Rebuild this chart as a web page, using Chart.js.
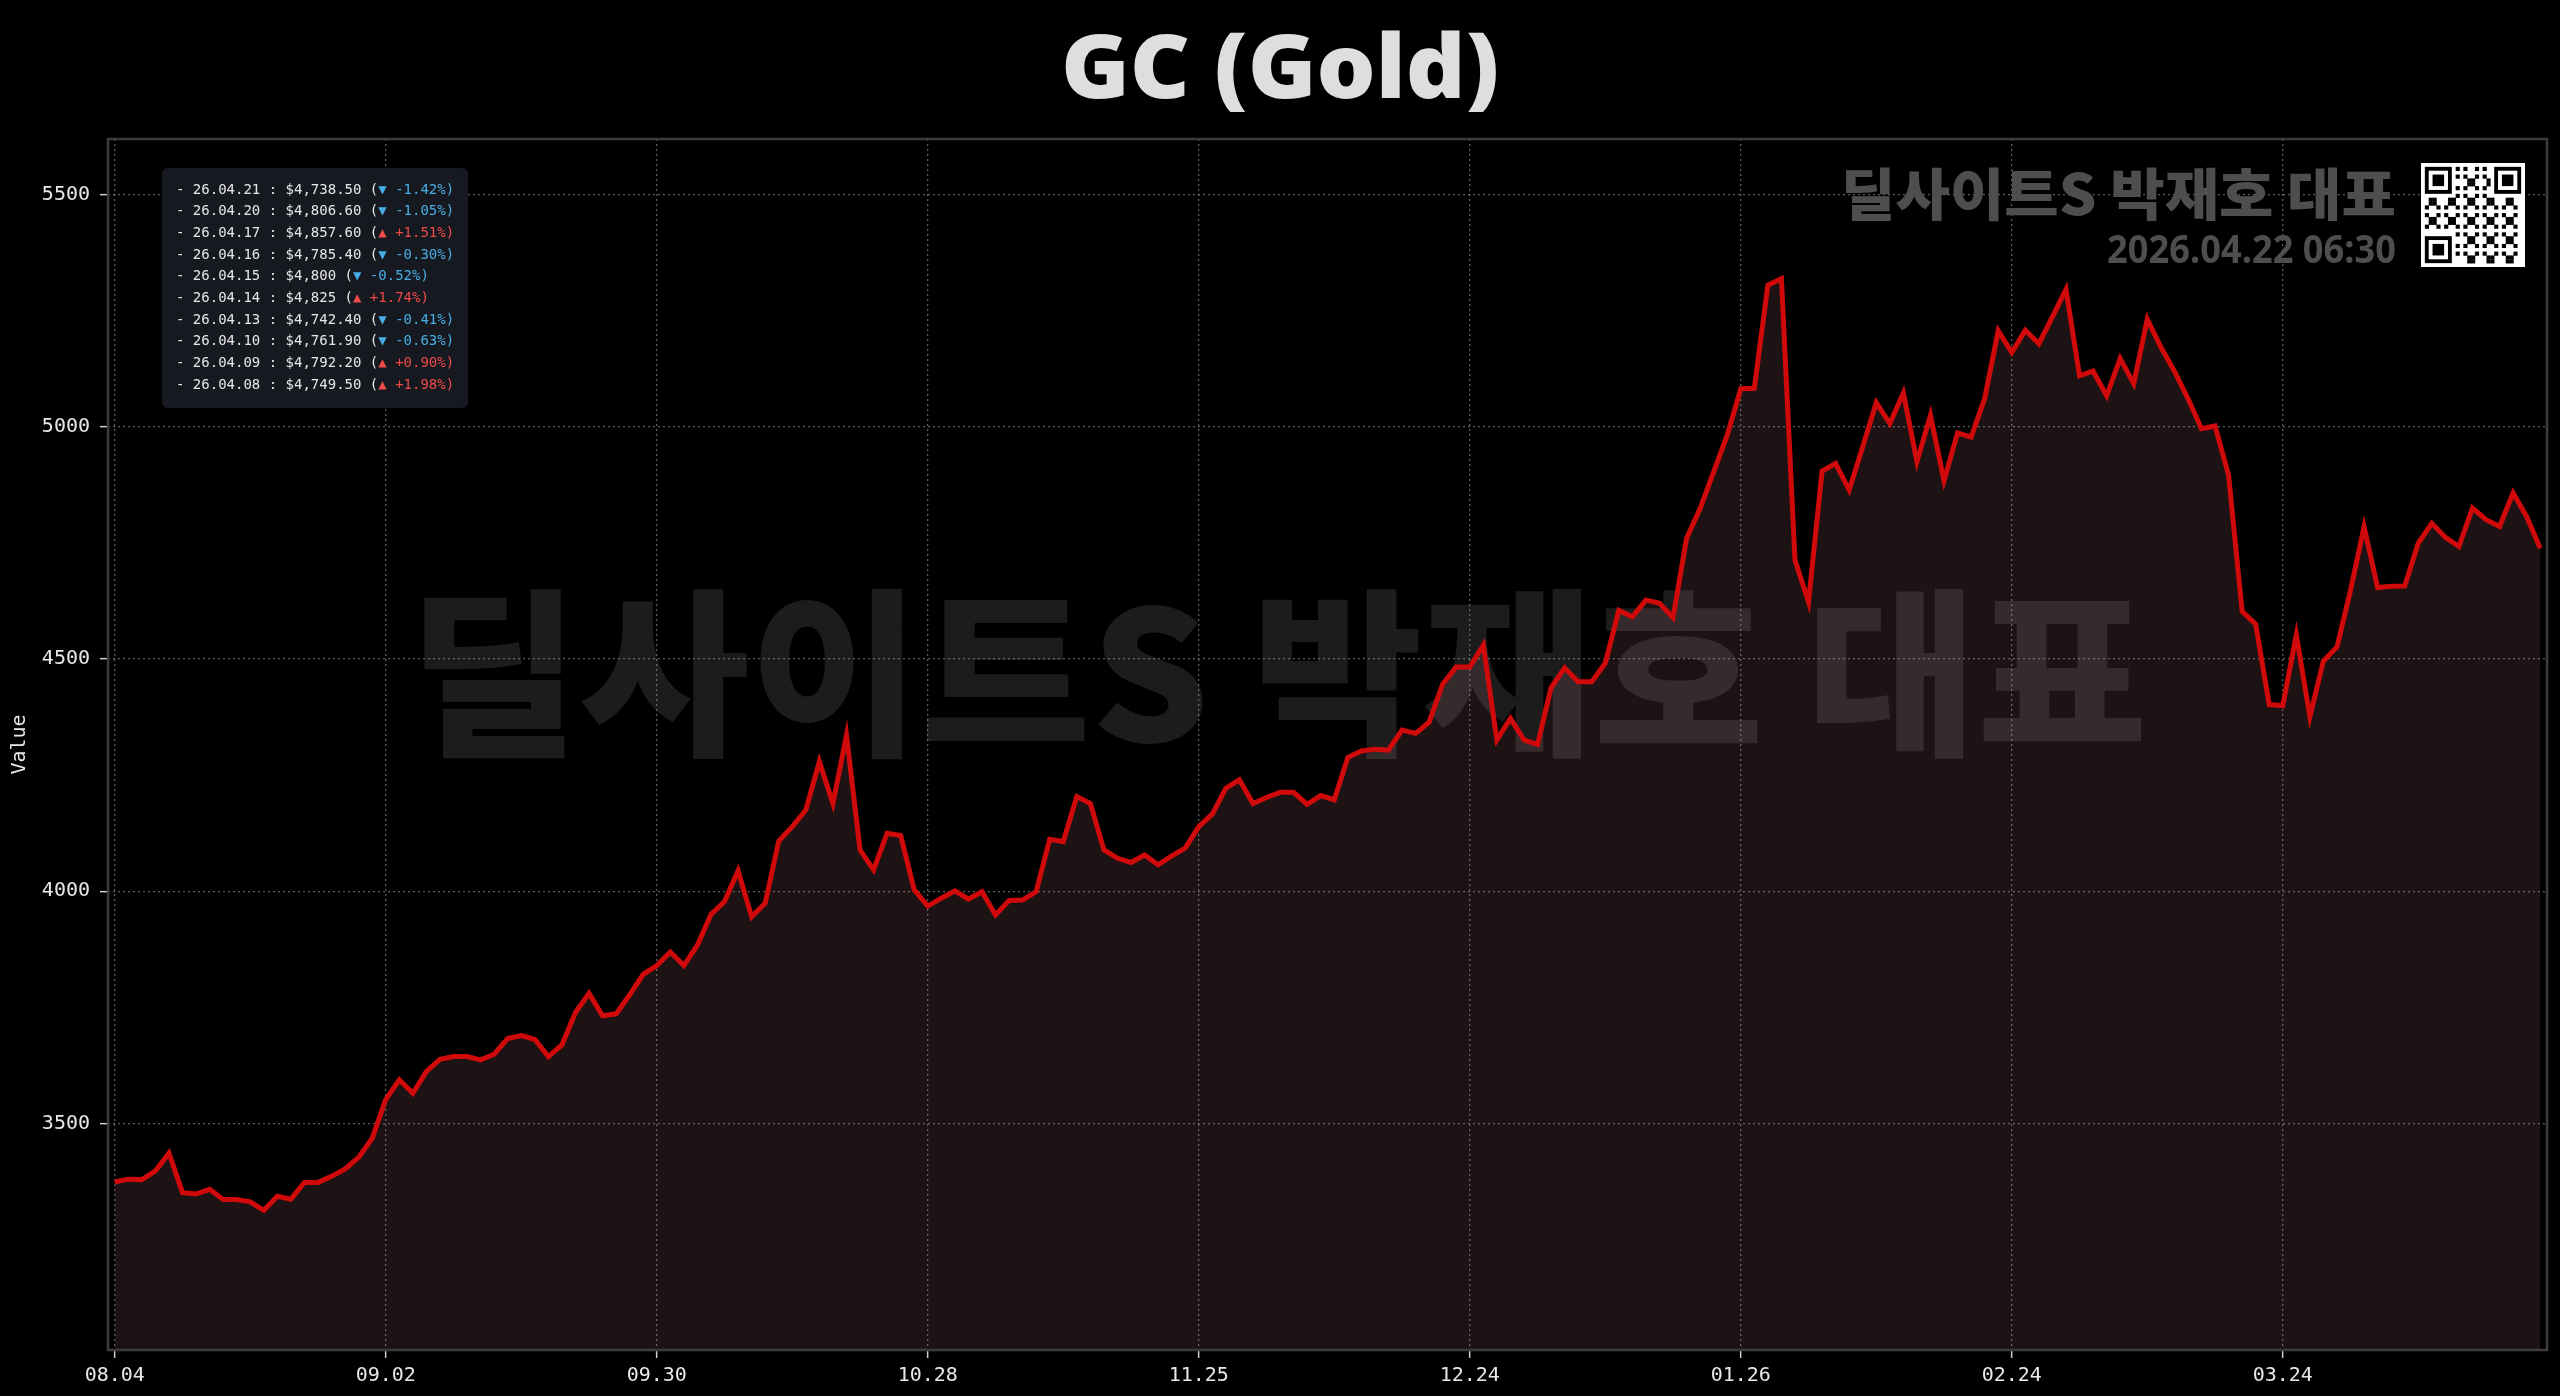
<!DOCTYPE html>
<html>
<head>
<meta charset="utf-8">
<title>GC (Gold)</title>
<script src="https://cdn.jsdelivr.net/npm/chart.js@4.4.1/dist/chart.umd.min.js"></script>
<style>
	html, body { margin: 0; padding: 0; background: #000; }
	#wrap { width: 2560px; height: 1396px; position: relative; }
</style>
</head>
<body>
<div id="wrap"><canvas id="gold"></canvas></div>
<script>
// DATA (trading days 2025.08.04 -> 2026.04.21)
const dates = [
	'08.04','08.05','08.06','08.07','08.08','08.11','08.12','08.13','08.14','08.15','08.18','08.19','08.20','08.21','08.22','08.25','08.26','08.27','08.28','08.29',
	'09.02','09.03','09.04','09.05','09.08','09.09','09.10','09.11','09.12','09.15','09.16','09.17','09.18','09.19','09.22','09.23','09.24','09.25','09.26','09.29','09.30',
	'10.01','10.02','10.03','10.06','10.07','10.08','10.09','10.10','10.13','10.14','10.15','10.16','10.17','10.20','10.21','10.22','10.23','10.24','10.27','10.28','10.29','10.30','10.31',
	'11.03','11.04','11.05','11.06','11.07','11.10','11.11','11.12','11.13','11.14','11.17','11.18','11.19','11.20','11.21','11.24','11.25','11.26','11.28',
	'12.01','12.02','12.03','12.04','12.05','12.08','12.09','12.10','12.11','12.12','12.15','12.16','12.17','12.18','12.19','12.22','12.23','12.24','12.26','12.29','12.30','12.31',
	'01.02','01.05','01.06','01.07','01.08','01.09','01.12','01.13','01.14','01.15','01.16','01.20','01.21','01.22','01.23','01.26','01.27','01.28','01.29','01.30',
	'02.02','02.03','02.04','02.05','02.06','02.09','02.10','02.11','02.12','02.13','02.17','02.18','02.19','02.20','02.23','02.24','02.25','02.26','02.27',
	'03.02','03.03','03.04','03.05','03.06','03.09','03.10','03.11','03.12','03.13','03.16','03.17','03.18','03.19','03.20','03.23','03.24','03.25','03.26','03.27','03.30','03.31',
	'04.01','04.02','04.06','04.07','04.08','04.09','04.10','04.13','04.14','04.15','04.16','04.17','04.20','04.21'
];

const closes = [
	3374, 3380, 3379, 3398, 3436, 3351, 3348, 3358, 3336, 3336, 3331, 3313, 3343, 3337, 3373, 3373, 3386, 3402, 3427, 3468,
	3552, 3594, 3565, 3612, 3638, 3644, 3644, 3637, 3649, 3683, 3689, 3681, 3644, 3669, 3739, 3780, 3732, 3736, 3777, 3821, 3840,
	3869, 3840, 3884, 3950, 3978, 4044, 3945, 3974, 4108, 4139, 4175, 4279, 4189, 4336, 4089, 4046, 4125, 4120, 4003, 3968, 3985, 4001, 3983,
	3999, 3949, 3980, 3981, 3999, 4112, 4107, 4204, 4189, 4089, 4071, 4062, 4078, 4057, 4076, 4093, 4139, 4166, 4222,
	4240, 4189, 4202, 4213, 4213, 4187, 4206, 4197, 4288, 4302, 4306, 4304, 4347, 4340, 4364, 4446, 4483, 4483, 4530, 4326, 4372, 4326,
	4316, 4438, 4481, 4451, 4451, 4491, 4605, 4591, 4627, 4620, 4589, 4760, 4824, 4903, 4982, 5082, 5083, 5305, 5319, 4713,
	4623, 4905, 4921, 4864, 4957, 5052, 5007, 5073, 4925, 5025, 4884, 4987, 4978, 5061, 5207, 5160, 5208, 5179, 5237,
	5296, 5110, 5120, 5067, 5147, 5093, 5232, 5172, 5120, 5061, 4996, 5002, 4896, 4603, 4575, 4402, 4400, 4552, 4376, 4496, 4526, 4648,
	4785, 4654, 4657, 4657.3, 4749.5, 4792.2, 4761.9, 4742.4, 4825, 4800, 4785.4, 4857.6, 4806.6, 4738.5
];

const yTicks = [3500, 4000, 4500, 5000, 5500];
const xTickEvery = 20;
const recentCount = 10;
const yearPrefix = '26.';
const watermarkText = '딜사이트S 박재호 대표';
const stampText = '2026.04.22 06:30';

// Y RANGE WITH 15% PADDING AROUND THE DATA
const dataMin = Math.min(...closes);
const dataMax = Math.max(...closes);
const pad = (dataMax - dataMin) * 0.15;

// DRAW TEXT STRETCHED TO A GIVEN WIDTH
function fitText(ctx, text, x, y, width, font, color, align, base) {
	ctx.save();
	ctx.font = font;
	ctx.fillStyle = color;
	ctx.textAlign = align;
	ctx.textBaseline = base;
	let w = ctx.measureText(text).width;
	ctx.translate(x, y);
	ctx.scale(width / w, 1);
	ctx.fillText(text, 0, 0);
	ctx.restore();
}

function money(v) {
	let isInt = Math.round(v) === v;
	return '$' + v.toLocaleString('en-US', {
		minimumFractionDigits: isInt ? 0 : 2,
		maximumFractionDigits: 2
	});
}

// FAKE QR BLOCK (decoration only)
function drawQr(ctx, x, y, size) {
	let n = 25;
	let m = size / (n + 2);
	ctx.fillStyle = '#fff';
	ctx.fillRect(x, y, size, size);
	ctx.fillStyle = '#000';
	let finder = (fx, fy) => {
		ctx.fillRect(x + m * (fx + 1), y + m * (fy + 1), m * 7, m * 7);
		ctx.fillStyle = '#fff';
		ctx.fillRect(x + m * (fx + 2), y + m * (fy + 2), m * 5, m * 5);
		ctx.fillStyle = '#000';
		ctx.fillRect(x + m * (fx + 3), y + m * (fy + 3), m * 3, m * 3);
	};
	for (let i = 0; i < n; i++) {
		for (let j = 0; j < n; j++) {
			let inFinder = (i < 8 && j < 8) || (i > n - 9 && j < 8) || (i < 8 && j > n - 9);
			if (inFinder) continue;
			if (((i * 7 + j * 13 + i * j * 3) % 5) < 2)
				ctx.fillRect(x + m * (i + 1), y + m * (j + 1), m + 0.3, m + 0.3);
		}
	}
	finder(0, 0);
	finder(n - 7, 0);
	finder(0, n - 7);
}

const decor = {
	id: 'decor',
	beforeDraw(chart) {
		let ctx = chart.ctx;
		ctx.save();
		ctx.fillStyle = '#000';
		ctx.fillRect(0, 0, chart.width, chart.height);
		ctx.restore();

		fitText(ctx, 'GC (Gold)', 1280, 98, 438, '800 88px "Open Sans"', '#dedede', 'center', 'alphabetic');
		fitText(ctx, watermarkText, 1278, 673, 1739, '900 180px "Noto Sans CJK KR"', '#1c1c1c', 'center', 'middle');
	},
	afterDatasetsDraw(chart) {
		let ctx = chart.ctx;
		let a = chart.chartArea;

		// frame
		ctx.save();
		ctx.strokeStyle = '#3c3c3c';
		ctx.lineWidth = 2.5;
		ctx.strokeRect(a.left, a.top, a.right - a.left, a.bottom - a.top);
		ctx.restore();

		// top right stamp
		fitText(ctx, watermarkText, 2396, 194, 555, '900 56px "Noto Sans CJK KR"', '#4e4e4e', 'right', 'middle');
		fitText(ctx, stampText, 2396, 263, 289, '700 39px "Noto Sans"', '#4e4e4e', 'right', 'alphabetic');
		drawQr(ctx, 2421, 163, 104);

		// recent values box
		ctx.save();
		ctx.fillStyle = '#161a20';
		ctx.beginPath();
		ctx.roundRect(162, 168, 306, 240, 6);
		ctx.fill();
		ctx.font = '14px "DejaVu Sans Mono"';
		ctx.textBaseline = 'middle';
		ctx.textAlign = 'left';
		let last = closes.length - 1;
		for (let k = 0; k < recentCount; k++) {
			let i = last - k;
			let pct = (closes[i] - closes[i - 1]) / closes[i - 1] * 100;
			let up = pct >= 0;
			let head = '- ' + yearPrefix + dates[i] + ' : ' + money(closes[i]) + ' (';
			let tail = (up ? '▲ +' : '▼ ') + pct.toFixed(2) + '%)';
			let y = 190 + k * 21.67;
			ctx.fillStyle = '#e6e6e6';
			ctx.fillText(head, 176, y);
			let w = ctx.measureText(head).width;
			ctx.fillStyle = up ? '#ef4a4a' : '#47ade4';
			ctx.fillText(tail, 176 + w, y);
		}
		ctx.restore();
	}
};

const gridOpts = {
	color: 'rgba(170,170,170,0.55)',
	lineWidth: 1.3,
	drawTicks: true,
	tickLength: 8,
	tickColor: '#cfcfcf',
	tickWidth: 1.5,
	tickBorderDash: []
};

const borderOpts = { display: false, dash: [2, 3] };

new Chart(document.getElementById('gold'), {
	type: 'line',
	data: {
		labels: dates,
		datasets: [{
			label: 'GC',
			data: closes,
			borderColor: '#d00a0a',
			borderWidth: 5,
			backgroundColor: 'rgba(250,158,167,0.12)',
			fill: 'start',
			pointRadius: 0,
			tension: 0
		}]
	},
	options: {
		responsive: true,
		maintainAspectRatio: false,
		animation: false,
		layout: {
			padding: { top: 139, right: 13, bottom: 0, left: 0 }
		},
		plugins: {
			legend: { display: false },
			tooltip: { enabled: false }
		},
		scales: {
			x: {
				offset: true,
				border: borderOpts,
				grid: gridOpts,
				afterBuildTicks: (scale) => {
					scale.ticks = scale.ticks.filter(t => t.value % xTickEvery === 0);
				},
				afterFit: (scale) => { scale.height = 46; },
				ticks: {
					autoSkip: false,
					maxRotation: 0,
					padding: 6,
					color: '#e8e8e8',
					font: { family: '"DejaVu Sans Mono", monospace', size: 20 }
				}
			},
			y: {
				min: dataMin - pad,
				max: dataMax + pad,
				border: borderOpts,
				grid: gridOpts,
				afterBuildTicks: (scale) => {
					scale.ticks = yTicks.map(v => ({ value: v }));
				},
				afterFit: (scale) => { scale.width = 108; },
				title: {
					display: true,
					text: 'Value',
					color: '#e8e8e8',
					padding: { top: 8, bottom: 0 },
					font: { family: '"DejaVu Sans Mono", monospace', size: 20 }
				},
				ticks: {
					padding: 10,
					color: '#e8e8e8',
					callback: (v) => String(v),
					font: { family: '"DejaVu Sans Mono", monospace', size: 20 }
				}
			}
		}
	},
	plugins: [decor]
});
</script>
</body>
</html>
